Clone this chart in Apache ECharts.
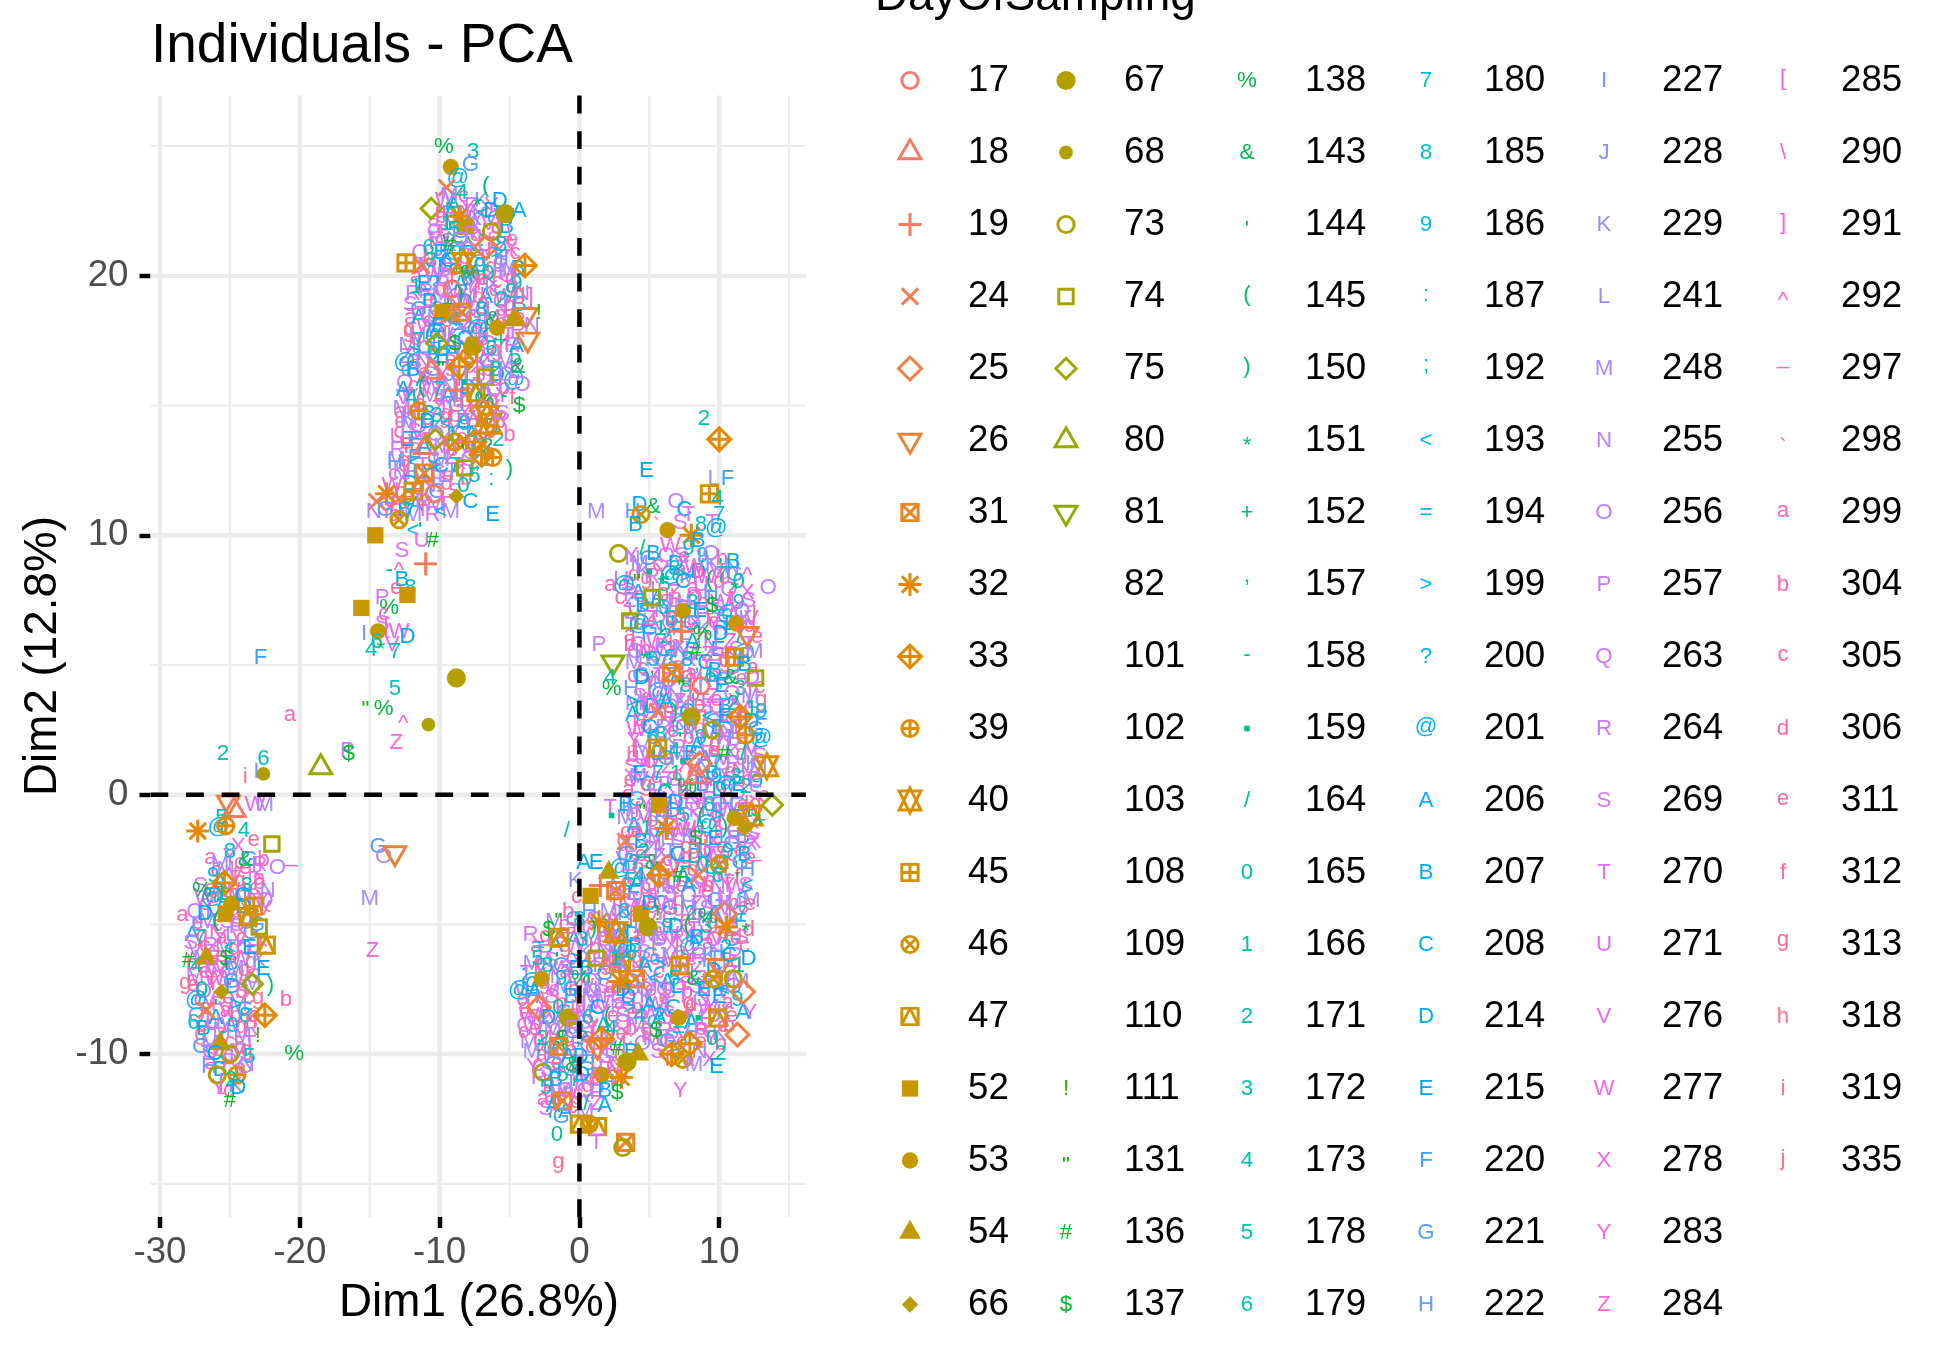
<!DOCTYPE html>
<html>
<head>
<meta charset="utf-8">
<title>Individuals - PCA</title>
<script src="https://cdn.jsdelivr.net/npm/echarts@6/dist/echarts.min.js"></script>
<style>
  html, body { margin: 0; padding: 0; background: #fff; }
  #pca { width: 1950px; height: 1349px; }
</style>
</head>
<body>
<div id="pca"></div>
<script>
// DayOfSampling levels in legend order; level k is drawn with R pch k+1
var days = [17, 18, 19, 24, 25, 26, 31, 32, 33, 39, 40, 45, 46, 47, 52, 53, 54, 66,
  67, 68, 73, 74, 75, 80, 81, 82, 101, 102, 103, 108, 109, 110, 111, 131, 136, 137,
  138, 143, 144, 145, 150, 151, 152, 157, 158, 159, 164, 165, 166, 171, 172, 173, 178, 179,
  180, 185, 186, 187, 192, 193, 194, 199, 200, 201, 206, 207, 208, 214, 215, 220, 221, 222,
  227, 228, 229, 241, 248, 255, 256, 257, 263, 264, 269, 270, 271, 276, 277, 278, 283, 284,
  285, 290, 291, 292, 297, 298, 299, 304, 305, 306, 311, 312, 313, 318, 319, 335];

var xTicks = [-30, -20, -10, 0, 10];
var yTicks = [-10, 0, 10, 20];
var xMinor = [-25, -15, -5, 5, 15];
var yMinor = [-15, -5, 5, 15, 25];
var zeroLine = [0];

// individuals: [Dim1, Dim2, DayOfSampling]
var upperGroup = [
  [-9.7,25.0,138],[-7.6,24.8,172],[-9.2,24.2,53],[-7.8,24.3,221],[-8.7,23.7,201],[-9.5,23.4,24],[-9.3,23.1,248],[-8.4,23.2,173],[-6.7,23.4,145],[-7.3,22.9,151],
  [-10.6,22.6,75],[-9.9,22.4,299],[-9.2,22.5,178],[-8.6,22.3,32],[-8.0,22.6,283],[-7.5,22.2,229],[-6.9,22.4,193],[-6.3,22.5,214],[-5.3,22.4,67],[-4.3,22.5,206],[-9.5,22.0,166],[-8.2,21.9,52],
  [-10.3,21.7,263],[-9.7,21.5,144],[-9.0,21.8,178],[-8.5,21.4,256],[-7.7,21.6,264],[-7.0,21.3,187],[-6.3,21.7,73],[-5.6,21.2,185],[-5.0,21.6,290],[-10.8,21.1,179],[-9.9,20.9,207],[-9.3,21.2,136],[-8.1,21.0,269],[-7.4,20.8,193],[-6.7,21.1,25],[-5.9,20.9,199],
  [-12.4,20.5,45],[-11.3,20.4,24],[-10.6,20.6,172],[-10.0,20.3,271],[-9.4,20.6,208],[-8.8,20.2,157],[-8.3,20.5,40],[-7.8,20.1,138],[-7.1,20.4,186],[-6.5,20.1,165],[-5.8,20.5,228],[-5.2,20.2,248],[-4.6,20.8,305],[-3.9,20.4,33],[-9.7,20.0,257],[-8.0,19.9,185],[-6.9,19.8,311],[-4.9,19.9,306],
  [-11.7,19.6,166],[-11.0,19.4,257],[-10.4,19.7,200],[-9.9,19.3,248],[-9.1,19.5,17],[-8.5,19.2,150],[-7.8,19.6,283],[-7.2,19.2,306],[-6.3,19.5,229],[-5.6,19.1,171],[-4.9,19.4,186],[-4.3,19.2,313],[-10.7,19.0,214],[-9.4,18.9,152],[-8.1,19.0,277],[-6.8,18.9,192],[-5.3,18.8,227],[-3.5,19.1,291],
  [-11.9,18.7,297],[-11.2,18.5,270],[-10.5,18.4,241],[-9.8,18.6,52],[-9.0,18.3,173],[-8.4,18.6,31],[-7.6,18.4,263],[-7.0,18.7,185],[-6.2,18.3,143],[-5.5,18.6,299],[-4.7,18.3,54],[-3.8,18.5,26],[-2.9,18.6,111],[-3.4,18.1,255],[-10.1,18.1,215],[-8.7,18.0,194],[-7.3,17.9,201],[-5.9,18.0,53],
  [-12.2,17.7,313],[-11.5,17.5,180],[-10.8,17.8,164],[-10.2,17.4,75],[-9.5,17.7,276],[-8.9,17.4,137],[-8.2,17.6,208],[-7.6,17.3,67],[-6.9,17.6,304],[-6.3,17.2,179],[-5.6,17.5,152],[-4.8,17.3,264],[-3.7,17.55,26],[-11.8,17.1,199],[-10.5,17.0,186],[-9.2,17.0,220],[-7.9,16.9,46],[-6.6,16.8,278],
  [-12.5,16.6,201],[-11.9,16.4,207],[-11.2,16.7,255],[-10.6,16.3,18],[-9.9,16.6,131],[-9.3,16.2,228],[-8.6,16.5,33],[-7.9,16.2,241],[-7.3,16.5,312],[-6.7,16.1,74],[-6.0,16.4,171],[-5.3,16.2,256],[-4.4,16.5,143],[-11.0,16.0,283],[-8.2,15.9,159],[-4.1,15.8,256],
  [-12.6,15.6,206],[-12.0,15.3,173],[-11.3,15.7,145],[-10.7,15.4,298],[-10.1,15.6,180],[-9.4,15.3,248],[-8.8,15.6,19],[-8.1,15.2,306],[-7.4,15.5,47],[-6.8,15.2,138],[-6.1,15.6,263],[-5.4,15.3,158],[-4.3,15.0,137],[-9.7,14.9,270],[-7.0,14.8,25],
  [-12.8,14.7,299],[-12.2,14.5,229],[-11.5,14.8,39],[-10.9,14.4,214],[-10.2,14.6,172],[-9.5,14.3,193],[-8.9,14.6,304],[-8.2,14.3,186],[-7.6,14.5,277],[-6.6,14.6,40],[-6.4,14.3,40],[-5.7,14.5,264],[-5.0,13.9,304],[-11.8,14.0,269],[-9.1,13.9,166],
  [-13.0,13.8,271],[-12.4,13.5,311],[-11.7,13.7,220],[-11.0,13.4,18],[-10.3,13.7,75],[-9.6,13.3,285],[-8.9,13.6,46],[-8.2,13.4,131],[-7.5,13.6,33],[-6.6,13.4,171],[-6.2,13.0,39],[-7.0,13.1,33],[-9.9,12.9,248],
  [-13.2,12.8,222],[-12.5,12.5,285],[-11.8,12.8,193],[-11.1,12.4,31],[-10.4,12.7,199],[-9.7,12.3,241],[-8.9,12.7,180],[-8.2,12.6,74],[-7.5,12.3,178],[-6.3,12.1,187],[-5.0,12.5,150],
  [-13.8,11.6,32],[-12.9,11.4,24],[-11.9,11.7,45],[-11.2,11.3,264],[-10.4,11.6,17],[-9.7,11.2,270],[-8.8,11.5,66],[-7.8,11.3,208],
  [-14.5,11.3,24],[-14.7,10.9,255],[-13.9,11.0,221],[-12.9,10.6,46],[-12.2,10.9,180],[-11.4,10.4,144],[-11.9,10.2,193],[-9.2,10.9,248],[-6.2,10.8,215],[-14.6,10.0,52],
  [-11.3,9.8,271],[-10.5,9.8,136],[-12.7,9.4,269],[-12.9,8.8,292],[-11.0,8.9,19],[-12.7,8.3,207],[-12.1,8.0,185],[-13.6,8.6,158],
  [-13.1,7.9,311],[-12.3,7.6,299],[-12.3,7.7,52],[-14.1,7.6,257],[-13.6,7.2,138],[-15.6,7.2,52],[-14.0,6.9,305],[-14.1,6.6,269],[-13.8,6.4,285],[-12.9,6.3,277],[-15.4,6.2,227],[-14.4,6.3,53],[-14.5,5.9,179],[-13.4,5.8,276],[-12.3,6.1,214],[-14.9,5.6,173],[-14.2,5.8,151],[-13.2,5.5,180]
];

var upperCore = [
  [-9.6,22.9,277],[-9.0,22.7,206],[-8.3,23.0,305],[-7.7,22.7,264],[-7.0,22.9,229],[-6.3,22.7,283],[-5.7,22.9,214],
  [-10.4,21.9,269],[-9.8,21.7,311],[-9.1,22.0,248],[-8.5,21.7,221],[-7.8,21.9,299],[-7.2,21.7,255],[-6.5,22.0,276],[-5.9,21.7,313],[-5.2,21.9,207],
  [-11.4,20.9,263],[-10.8,20.7,304],[-10.1,21.0,228],[-9.5,20.7,284],[-8.8,20.9,201],[-8.2,20.7,306],[-7.5,21.0,241],[-6.9,20.7,270],[-6.2,20.9,318],[-5.6,20.7,222],[-4.9,21.0,278],
  [-11.7,19.9,299],[-11.1,19.7,215],[-10.4,20.0,277],[-9.8,19.7,264],[-9.1,19.9,312],[-8.5,19.7,206],[-7.8,20.0,248],[-7.2,19.7,283],[-6.5,19.9,229],[-5.9,19.7,305],[-5.2,20.0,271],[-4.5,19.7,186],
  [-12.1,18.9,269],[-11.5,18.7,221],[-10.8,19.0,311],[-10.2,18.7,256],[-9.5,18.9,284],[-8.9,18.7,304],[-8.2,19.0,214],[-7.6,18.7,276],[-6.9,18.9,299],[-6.3,18.7,241],[-5.6,19.0,263],[-5.0,18.7,313],[-4.3,18.9,207],
  [-12.2,17.9,305],[-11.6,17.7,248],[-10.9,18.0,277],[-10.3,17.7,201],[-9.6,17.9,319],[-9.0,17.7,229],[-8.3,18.0,283],[-7.7,17.7,312],[-7.0,17.9,255],[-6.4,17.7,208],[-5.7,18.0,306],[-5.1,17.7,270],[-4.4,17.9,264],
  [-12.4,16.9,284],[-11.8,16.7,299],[-11.1,17.0,222],[-10.5,16.7,269],[-9.8,16.9,215],[-9.2,16.7,311],[-8.5,17.0,241],[-7.9,16.7,304],[-7.2,16.9,276],[-6.6,16.7,221],[-5.9,17.0,313],[-5.3,16.7,248],[-4.6,16.9,178],
  [-12.5,15.9,263],[-11.9,15.7,305],[-11.2,16.0,206],[-10.6,15.7,277],[-9.9,15.9,299],[-9.3,15.7,255],[-8.6,16.0,283],[-8.0,15.7,214],[-7.3,15.9,312],[-6.7,15.7,229],[-6.0,16.0,271],[-5.4,15.7,304],[-4.7,15.9,201],
  [-12.7,14.9,248],[-12.1,14.7,264],[-11.4,15.0,311],[-10.8,14.7,207],[-10.1,14.9,284],[-9.5,14.7,306],[-8.8,15.0,221],[-8.2,14.7,278],[-7.5,14.9,299],[-6.9,14.7,241],[-6.2,15.0,313],[-5.5,14.7,269],
  [-12.9,13.9,305],[-12.3,13.7,215],[-11.6,14.0,276],[-11.0,13.7,299],[-10.3,13.9,256],[-9.7,13.7,283],[-9.0,14.0,229],[-8.4,13.7,311],[-7.7,13.9,206],[-7.1,13.7,264],[-6.4,14.0,304],[-5.8,13.7,171],
  [-13.1,12.9,248],[-12.5,12.7,313],[-11.8,13.0,220],[-11.2,12.7,270],[-10.5,12.9,305],[-9.9,12.7,208],[-9.2,13.0,284],[-8.6,12.7,299],[-7.9,12.9,263],[-7.3,12.7,192],[-6.7,12.9,241],
  [-13.4,11.9,277],[-12.8,11.7,304],[-12.1,12.0,214],[-11.5,11.7,311],[-10.8,11.9,255],[-10.2,11.7,221],[-9.5,12.0,306],[-8.9,11.7,269],[-8.3,11.9,165],
  [-13.8,10.9,283],[-13.2,10.7,299],[-12.5,11.0,207],[-11.9,10.8,248],[-11.2,11.0,312],[-10.5,10.8,264],[-9.9,10.9,193]
];

var upperFill = [
  [-9.9,22.3,304],[-9.3,22.4,264],[-8.6,22.2,311],[-8.0,22.4,248],[-7.3,22.2,283],[-6.7,22.4,305],[-6.0,22.2,221],[-5.4,22.3,277],
  [-10.6,21.3,312],[-10.0,21.4,277],[-9.3,21.2,229],[-8.7,21.4,305],[-8.0,21.2,206],[-7.4,21.4,313],[-6.7,21.2,263],[-6.1,21.4,269],[-5.4,21.2,284],[-4.8,21.3,311],
  [-11.5,20.3,305],[-10.9,20.4,248],[-10.2,20.2,276],[-9.6,20.4,214],[-8.9,20.2,311],[-8.3,20.4,276],[-7.6,20.2,304],[-7.0,20.4,221],[-6.3,20.2,313],[-5.7,20.4,269],[-5.0,20.2,255],[-4.4,20.3,207],
  [-11.9,19.3,264],[-11.3,19.4,311],[-10.6,19.2,283],[-10.0,19.4,305],[-9.3,19.2,229],[-8.7,19.4,277],[-8.0,19.2,248],[-7.4,19.4,312],[-6.7,19.2,206],[-6.1,19.4,305],[-5.4,19.2,277],[-4.8,19.4,313],[-4.1,19.3,255],
  [-12.1,18.3,299],[-11.5,18.4,206],[-10.8,18.2,305],[-10.2,18.4,269],[-9.5,18.2,311],[-8.9,18.4,284],[-8.2,18.2,263],[-7.6,18.4,221],[-6.9,18.2,313],[-6.3,18.4,248],[-5.6,18.2,304],[-5.0,18.4,264],[-4.3,18.3,311],
  [-12.3,17.3,248],[-11.7,17.4,313],[-11.0,17.2,263],[-10.4,17.4,270],[-9.7,17.2,207],[-9.1,17.4,305],[-8.4,17.2,277],[-7.8,17.4,311],[-7.1,17.2,229],[-6.5,17.4,256],[-5.8,17.2,283],[-5.2,17.4,312],[-4.5,17.3,206],
  [-12.4,16.3,305],[-11.8,16.4,264],[-11.1,16.2,311],[-10.5,16.4,221],[-9.8,16.2,278],[-9.2,16.4,313],[-8.5,16.2,248],[-7.9,16.4,305],[-7.2,16.2,269],[-6.6,16.4,304],[-5.9,16.2,214],[-5.3,16.4,229],[-4.6,16.3,284],
  [-12.6,15.3,276],[-12.0,15.4,277],[-11.3,15.2,305],[-10.7,15.4,248],[-10.0,15.2,311],[-9.4,15.4,206],[-8.7,15.2,313],[-8.1,15.4,264],[-7.4,15.2,271],[-6.8,15.4,221],[-6.1,15.2,305],[-5.5,15.4,283],[-4.8,15.3,312],
  [-12.8,14.3,311],[-12.2,14.4,248],[-11.5,14.2,263],[-10.9,14.4,305],[-10.2,14.2,229],[-9.6,14.4,313],[-8.9,14.2,276],[-8.3,14.4,215],[-7.6,14.2,264],[-7.0,14.4,311],[-6.3,14.2,207],[-5.7,14.4,304],
  [-13.0,13.3,264],[-12.4,13.4,283],[-11.7,13.2,313],[-11.1,13.4,206],[-10.4,13.2,305],[-9.8,13.4,248],[-9.1,13.2,311],[-8.5,13.4,277],[-7.8,13.2,269],[-7.2,13.4,221],[-6.5,13.2,312],
  [-13.3,12.3,305],[-12.7,12.4,248],[-12.0,12.2,256],[-11.4,12.4,214],[-10.7,12.2,313],[-10.1,12.4,269],[-9.4,12.2,311],[-8.8,12.4,229],[-8.1,12.2,304],
  [-13.6,11.3,276],[-13.0,11.2,264],[-12.3,11.4,311],[-11.7,11.2,206],[-11.0,11.3,305],[-10.3,11.2,248]
];

var rightGroup = [
  [4.8,12.5,215],[8.9,14.5,171],[10.0,13.7,33],[9.6,12.2,241],[10.6,12.2,220],[9.3,11.6,45],[4.3,11.2,214],[3.8,10.9,222],[6.9,11.3,256],[7.5,11.0,208],[5.3,11.1,143],[9.9,11.4,173],
  [4.4,10.8,46],[4.0,10.4,207],[5.5,10.6,298],[6.3,10.2,53],[7.2,10.5,269],[7.8,10.8,270],[8.0,10.0,32],[8.7,10.4,185],[9.5,10.5,270],[9.8,10.2,201],[10.0,10.8,180],[8.5,9.8,207],
  [2.8,9.3,73],[3.8,9.1,255],[4.5,9.5,164],[5.3,9.3,207],[6.5,9.6,277],[7.3,9.2,269],[7.8,9.5,186],[8.6,9.1,227],[9.4,9.3,256],[10.1,9.0,144],[11.0,9.0,207],[12.0,8.6,292],[13.5,8.0,256],
  [3.0,8.3,271],[2.2,8.0,299],[3.2,8.0,201],[4.1,8.4,131],[5.0,8.6,159],[6.0,8.3,152],[6.8,8.7,172],[7.6,8.4,199],[8.5,8.6,304],[9.3,8.2,145],[10.2,8.5,180],[11.1,8.1,151],[6.0,7.8,318],
  [2.9,7.5,305],[3.7,7.7,264],[4.5,7.3,207],[5.2,7.6,74],[6.0,7.2,178],[6.7,7.5,241],[7.4,7.1,53],[8.1,7.4,172],[8.8,7.0,257],[9.5,7.3,137],[10.2,7.0,194],[10.9,7.4,291],[11.6,7.1,263],[12.3,6.8,276],
  [3.6,6.7,74],[4.3,6.5,201],[5.1,6.8,284],[5.8,6.4,166],[6.6,6.7,313],[7.3,6.3,19],[8.0,6.6,221],[8.8,6.2,138],[9.6,6.6,283],[10.4,6.3,187],[11.2,6.6,53],[12.0,6.2,26],
  [1.4,5.8,257],[2.4,5.1,81],[2.2,4.5,173],[2.3,4.1,138],[3.6,5.8,304],[4.1,5.5,227],[4.7,5.4,151],[5.3,5.2,178],[5.9,5.7,264],[6.5,5.3,200],[7.1,5.6,229],[7.7,5.2,185],[8.3,5.5,136],[9.0,5.1,208],[9.7,5.4,269],[10.4,5.0,313],[11.1,5.3,45],[11.8,5.0,207],
  [4.5,4.5,214],[5.2,4.6,157],[5.9,4.3,248],[6.6,4.7,31],[7.3,4.3,131],[8.0,4.6,299],[8.7,4.2,17],[9.4,4.6,179],[10.1,4.3,192],[10.8,4.5,143],[12.6,4.5,74],[12.2,4.0,270],
  [3.8,3.6,199],[4.4,3.3,165],[5.0,3.7,277],[5.6,3.2,24],[6.2,3.6,206],[6.8,3.1,150],[7.4,3.5,255],[8.0,3.0,67],[8.6,3.4,311],[9.2,3.0,193],[9.8,3.4,263],[10.4,3.0,215],[11.0,3.5,171],[11.5,3.0,33],[13.0,2.9,220],[12.3,3.3,166],
  [4.0,2.7,285],[5.0,2.6,208],[5.8,2.3,185],[6.5,2.7,270],[7.2,2.3,144],[7.9,2.6,228],[8.7,2.2,186],[9.5,2.5,73],[10.3,2.2,278],[11.1,2.6,241],[11.9,2.3,39],[12.7,2.1,200],
  [3.9,1.7,312],[4.5,1.4,271],[5.0,1.3,312],[5.6,1.8,47],[6.2,1.4,221],[6.8,1.7,173],[7.4,1.3,159],[8.0,1.6,207],[8.6,1.2,25],[9.2,1.6,276],[9.8,1.2,180],[10.4,1.6,136],[11.0,1.2,264],[11.7,1.6,164],[12.4,1.2,229],[13.4,1.1,40],
  [4.2,0.7,248],[4.9,0.4,192],[5.6,0.8,180],[6.3,0.4,151],[7.0,0.7,305],[7.7,0.3,138],[8.4,0.7,18],[9.1,0.3,283],[9.8,0.7,186],[10.5,0.3,201],[11.2,0.7,172],[11.9,0.3,171],[12.6,0.6,257],
  [2.2,-0.5,270],[2.3,-0.8,159],[3.3,-0.4,207],[3.9,-0.8,256],[4.5,-0.5,131],[5.1,-0.9,227],[5.7,-0.4,52],[6.3,-0.8,299],[6.9,-0.3,214],[7.5,-0.8,178],[8.1,-0.4,263],[8.7,-0.9,145],[9.3,-0.4,185],[9.9,-0.8,199],[10.5,-0.4,222],[11.1,-0.9,53],[11.7,-0.4,306],[12.3,-0.8,40],[13.8,-0.4,75],[12.9,-1.0,152],
  [4.1,-1.5,311],[4.8,-1.3,166],[5.5,-1.7,248],[6.2,-1.3,32],[6.9,-1.7,241],[7.6,-1.3,277],[8.3,-1.7,137],[9.0,-1.3,187],[9.7,-1.7,215],[10.4,-1.3,150],[11.1,-1.7,264],[11.8,-1.3,66],[12.5,-1.8,278],[9.0,-2.0,335],
  [3.3,-2.3,221],[3.9,-2.6,200],[4.6,-2.2,171],[5.2,-2.6,143],[5.8,-2.2,229],[6.4,-2.7,17],[7.0,-2.3,208],[7.6,-2.7,194],[8.2,-2.2,313],[8.8,-2.7,165],[9.4,-2.3,270],[10.0,-2.7,46],[10.6,-2.2,186],[11.2,-2.7,157],[11.8,-2.3,207],[12.6,-2.6,297],
  [3.6,-3.3,178],[4.3,-3.1,173],[5.0,-3.5,263],[5.7,-3.1,33],[6.4,-3.5,255],[7.1,-3.1,136],[7.8,-3.5,206],[8.5,-3.1,24],[9.2,-3.5,304],[9.9,-3.1,179],[10.6,-3.5,283],[11.3,-3.1,144],[12.0,-3.5,193],
  [2.5,-4.2,312],[3.2,-4.5,185],[3.8,-4.1,269],[4.4,-4.6,52],[5.0,-4.2,214],[5.6,-4.6,111],[6.2,-4.2,277],[6.8,-4.7,192],[7.4,-4.2,227],[8.0,-4.6,171],[8.6,-4.2,256],[9.2,-4.7,138],[9.8,-4.2,271],[10.4,-4.6,25],[11.0,-4.2,248],[11.6,-4.6,180],[12.2,-4.3,311],
  [2.8,-5.3,222],[3.5,-5.1,158],[4.2,-5.5,299],[4.9,-5.1,67],[5.6,-5.5,241],[6.3,-5.1,186],[7.0,-5.5,264],[7.7,-5.1,145],[8.4,-5.5,207],[9.1,-5.1,172],[9.8,-5.5,276],[10.5,-5.1,32],[11.2,-5.5,306],[11.9,-5.1,151],
  [2.3,-6.2,277],[3.0,-6.5,47],[3.7,-6.1,185],[4.4,-6.6,164],[5.1,-6.2,221],[5.8,-6.6,199],[6.5,-6.2,248],[7.2,-6.6,45],[7.9,-6.2,283],[8.6,-6.7,187],[9.3,-6.2,229],[10.0,-6.6,26],[10.7,-6.2,208],[11.4,-6.6,166],[12.1,-6.3,214],
  [3.3,-7.3,304],[4.0,-7.1,31],[4.7,-7.5,256],[5.4,-7.1,193],[6.1,-7.5,263],[6.8,-7.1,178],[7.5,-7.5,270],[8.2,-7.1,143],[8.9,-7.5,215],[9.6,-7.1,46],[10.3,-7.5,193],[11.0,-7.1,73],[11.7,-7.6,25],
  [3.6,-8.2,199],[4.3,-8.5,173],[5.0,-8.1,206],[5.7,-8.5,200],[6.4,-8.1,241],[7.1,-8.6,53],[7.8,-8.2,313],[8.5,-8.6,159],[9.2,-8.2,277],[9.9,-8.6,47],[10.6,-8.2,298],[11.7,-8.4,206],[12.2,-8.4,283],[11.3,-9.25,25],
  [4.6,-9.3,270],[5.5,-9.1,137],[6.3,-9.5,221],[7.1,-9.1,194],[7.9,-9.6,33],[8.7,-9.1,264],[9.5,-9.4,165],[10.3,-9.0,311],
  [6.6,-10.0,33],[7.4,-10.2,46],[8.2,-10.4,248],[9.8,-10.5,215],[7.2,-11.4,283],[10.1,-10.0,171]
];

var rightCore = [
  [3.7,9.2,283],[4.3,8.9,248],[4.9,9.1,221],[5.6,8.8,305],[6.2,9.2,263],[6.9,8.9,214],[7.5,9.1,311],[8.2,8.8,277],[8.8,9.2,186],[9.5,8.9,229],[10.2,9.1,304],[10.9,8.8,255],
  [3.5,8.1,269],[4.2,7.8,206],[4.8,8.2,313],[5.5,7.9,241],[6.1,8.1,178],[6.8,7.8,284],[7.4,8.2,208],[8.1,7.9,299],[8.7,8.1,271],[9.4,7.8,222],[10.0,8.2,306],[10.7,7.9,256],[11.4,8.2,165],[12.0,7.8,278],
  [3.4,7.1,228],[4.0,6.9,276],[4.7,7.2,193],[5.3,6.9,319],[6.0,7.1,248],[6.6,6.8,207],[7.3,7.2,264],[7.9,6.9,285],[8.6,7.1,215],[9.2,6.8,312],[9.9,7.2,269],[10.6,6.9,201],[11.2,7.1,283],[11.9,6.8,229],[12.5,7.0,335],
  [3.6,6.1,299],[4.2,5.8,263],[4.9,6.2,220],[5.5,5.9,277],[6.2,6.1,171],[6.8,5.8,304],[7.5,6.2,241],[8.1,5.9,206],[8.8,6.1,318],[9.4,5.8,255],[10.1,6.2,214],[10.8,5.9,284],[11.4,6.1,180],[12.1,5.8,270],[12.7,6.0,311],
  [3.9,5.1,248],[4.5,4.8,305],[5.2,5.2,229],[5.8,4.9,278],[6.5,5.1,221],[7.1,4.8,313],[7.8,5.2,264],[8.4,4.9,192],[9.1,5.1,283],[9.7,4.8,207],[10.4,5.2,306],[11.0,4.9,271],[11.7,5.1,257],[12.4,4.8,299],
  [3.7,4.1,222],[4.3,3.8,269],[5.0,4.2,312],[5.6,3.9,201],[6.3,4.1,276],[6.9,3.8,255],[7.6,4.2,185],[8.2,3.9,304],[8.9,4.1,241],[9.5,3.8,284],[10.2,4.2,215],[10.9,3.9,263],[11.5,4.1,172],[12.2,3.8,248],[12.9,4.1,305],
  [3.8,3.1,206],[4.4,2.8,299],[5.1,3.2,277],[5.7,2.9,228],[6.4,3.1,311],[7.0,2.8,264],[7.7,3.2,208],[8.3,2.9,270],[9.0,3.1,319],[9.6,2.8,221],[10.3,3.2,285],[11.0,2.9,256],[11.6,3.1,306],[12.3,2.8,214],[13.0,3.2,186],
  [3.9,2.1,283],[4.5,1.8,248],[5.2,2.2,179],[5.8,1.9,312],[6.5,2.1,229],[7.1,1.8,257],[7.8,2.2,304],[8.4,1.9,206],[9.1,2.1,271],[9.7,1.8,313],[10.4,2.2,222],[11.0,1.9,264],[11.7,2.1,299],[12.3,1.8,276],[13.0,2.1,201],
  [3.7,1.1,269],[4.3,0.8,215],[5.0,1.2,305],[5.6,0.9,241],[6.3,1.1,284],[6.9,0.8,166],[7.6,1.2,278],[8.2,0.9,311],[8.9,1.1,255],[9.5,0.8,207],[10.2,1.2,263],[10.8,0.9,306],[11.5,1.1,228],[12.1,0.8,283],[12.8,1.1,248],
  [3.5,0.1,299],[4.1,-0.2,221],[4.8,0.2,313],[5.4,-0.1,270],[6.1,0.1,208],[6.7,-0.2,277],[7.4,0.2,304],[8.0,-0.1,229],[8.7,0.1,285],[9.3,-0.2,264],[10.0,0.2,214],[10.6,-0.1,318],[11.3,0.1,256],[11.9,-0.2,192],[12.6,0.1,269],[13.2,-0.1,305],
  [3.3,-0.9,248],[3.9,-1.2,206],[4.6,-0.8,276],[5.2,-1.1,311],[5.9,-0.9,222],[6.5,-1.2,263],[7.2,-0.8,299],[7.8,-1.1,241],[8.5,-0.9,283],[9.1,-1.2,201],[9.8,-0.8,306],[10.4,-1.1,271],[11.1,-0.9,215],[11.7,-1.2,304],[12.4,-0.9,178],
  [3.1,-1.9,313],[3.7,-2.2,257],[4.4,-1.8,207],[5.0,-2.1,284],[5.7,-1.9,319],[6.3,-2.2,228],[7.0,-1.8,269],[7.6,-2.1,305],[8.3,-1.9,255],[8.9,-2.2,214],[9.6,-1.8,278],[10.2,-2.1,311],[10.9,-1.9,221],[11.5,-2.2,299],[12.2,-1.9,264],
  [2.9,-2.9,201],[3.5,-3.2,270],[4.2,-2.8,304],[4.8,-3.1,248],[5.5,-2.9,229],[6.1,-3.2,313],[6.8,-2.8,276],[7.4,-3.1,206],[8.1,-2.9,306],[8.7,-3.2,263],[9.4,-2.8,185],[10.0,-3.1,283],[10.7,-2.9,241],[11.3,-3.2,312],[12.0,-2.9,222],
  [2.6,-3.9,264],[3.2,-4.2,305],[3.9,-3.8,215],[4.5,-4.1,277],[5.2,-3.9,299],[5.8,-4.2,208],[6.5,-3.8,269],[7.1,-4.1,318],[7.8,-3.9,256],[8.4,-4.2,284],[9.1,-3.8,311],[9.7,-4.1,221],[10.4,-3.9,271],[11.0,-4.2,304],[11.7,-3.9,193],[12.3,-4.1,248],
  [2.4,-4.9,283],[3.0,-5.2,206],[3.7,-4.8,312],[4.3,-5.1,241],[5.0,-4.9,276],[5.6,-5.2,263],[6.3,-4.8,305],[6.9,-5.1,214],[7.6,-4.9,299],[8.2,-5.2,270],[8.9,-4.8,229],[9.5,-5.1,313],[10.2,-4.9,255],[10.8,-5.2,284],[11.5,-4.9,220],[12.1,-5.2,306],
  [2.7,-5.9,248],[3.3,-6.2,304],[4.0,-5.8,207],[4.6,-6.1,269],[5.3,-5.9,319],[5.9,-6.2,228],[6.6,-5.8,278],[7.2,-6.1,311],[7.9,-5.9,201],[8.5,-6.2,264],[9.2,-5.8,299],[9.8,-6.1,222],[10.5,-5.9,171],[11.1,-6.2,257],[11.8,-5.9,305],
  [3.1,-6.9,313],[3.7,-7.2,221],[4.4,-6.8,283],[5.0,-7.1,255],[5.7,-6.9,305],[6.3,-7.2,206],[7.0,-6.8,276],[7.6,-7.1,299],[8.3,-6.9,241],[8.9,-7.2,312],[9.6,-6.8,214],[10.2,-7.1,263],[10.9,-6.9,284],[11.5,-7.2,248],
  [3.5,-7.9,269],[4.1,-8.2,304],[4.8,-7.8,229],[5.4,-8.1,277],[6.1,-7.9,311],[6.7,-8.2,208],[7.4,-7.8,270],[8.0,-8.1,306],[8.7,-7.9,256],[9.3,-8.2,283],[10.0,-7.8,215],[10.6,-8.1,299],[11.3,-7.9,186],
  [4.1,-8.9,248],[4.8,-9.2,313],[5.4,-8.8,221],[6.1,-9.1,264],[6.7,-8.9,305],[7.4,-9.2,276],[8.0,-8.8,206],[8.7,-9.1,311],[9.3,-8.9,284],[10.0,-9.2,229],[10.7,-8.9,304],
  [5.6,-9.9,269],[6.3,-10.2,312],[7.0,-9.9,207],[7.8,-10.3,299],[8.6,-9.9,255],[9.3,-10.2,278]
];

var rightFill = [
  [3.9,8.5,306],[4.6,8.6,229],[5.2,8.4,264],[5.9,8.6,283],[6.5,8.4,201],[7.2,8.6,311],[7.8,8.4,248],[8.5,8.6,214],[9.1,8.4,277],[9.8,8.6,276],[10.4,8.4,313],[11.1,8.5,221],
  [3.6,7.5,284],[4.3,7.6,305],[4.9,7.4,255],[5.6,7.6,206],[6.2,7.4,269],[6.9,7.6,318],[7.5,7.4,222],[8.2,7.6,263],[8.8,7.4,304],[9.5,7.6,241],[10.1,7.4,277],[10.8,7.6,312],[11.4,7.4,186],[12.1,7.5,269],
  [3.7,6.5,270],[4.4,6.6,313],[5.0,6.4,221],[5.7,6.6,276],[6.3,6.4,248],[7.0,6.6,207],[7.6,6.4,311],[8.3,6.6,278],[8.9,6.4,229],[9.6,6.6,305],[10.2,6.4,264],[10.9,6.6,214],[11.5,6.4,283],[12.2,6.5,306],
  [4.0,5.5,263],[4.7,5.6,304],[5.3,5.4,277],[6.0,5.6,208],[6.6,5.4,312],[7.3,5.6,255],[7.9,5.4,269],[8.6,5.6,241],[9.2,5.4,284],[9.9,5.6,215],[10.5,5.4,311],[11.2,5.6,269],[11.8,5.4,201],[12.5,5.5,248],
  [3.8,4.5,305],[4.4,4.6,221],[5.1,4.4,283],[5.7,4.6,270],[6.4,4.4,256],[7.0,4.6,206],[7.7,4.4,313],[8.3,4.6,276],[9.0,4.4,229],[9.6,4.6,304],[10.3,4.4,264],[10.9,4.6,193],[11.6,4.4,311],[12.3,4.5,256],
  [3.9,3.5,248],[4.6,3.6,312],[5.2,3.4,214],[5.9,3.6,277],[6.5,3.4,263],[7.2,3.6,284],[7.8,3.4,305],[8.5,3.6,222],[9.1,3.4,269],[9.8,3.6,311],[10.4,3.4,207],[11.1,3.6,278],[11.7,3.4,276],[12.4,3.6,241],[13.0,3.5,313],
  [4.1,2.5,277],[4.7,2.6,305],[5.4,2.4,229],[6.0,2.6,264],[6.7,2.4,311],[7.3,2.6,201],[8.0,2.4,283],[8.6,2.6,306],[9.3,2.4,248],[9.9,2.6,215],[10.6,2.4,255],[11.2,2.6,270],[11.9,2.4,312],[12.6,2.5,221],
  [3.8,1.5,304],[4.4,1.6,263],[5.1,1.4,277],[5.7,1.6,214],[6.4,1.4,318],[7.0,1.6,248],[7.7,1.4,284],[8.3,1.6,305],[9.0,1.4,206],[9.6,1.6,311],[10.3,1.4,276],[10.9,1.6,229],[11.6,1.4,313],[12.2,1.6,255],[12.9,1.5,269],
  [3.6,0.5,311],[4.2,0.6,277],[4.9,0.4,221],[5.5,0.6,305],[6.2,0.4,264],[6.8,0.6,256],[7.5,0.4,241],[8.1,0.6,313],[8.8,0.4,207],[9.4,0.6,283],[10.1,0.4,306],[10.7,0.6,269],[11.4,0.4,215],[12.0,0.6,304],[12.7,0.5,186],
  [3.5,-0.5,229],[4.1,-0.6,312],[4.8,-0.4,283],[5.4,-0.6,255],[6.1,-0.4,276],[6.7,-0.6,214],[7.4,-0.4,305],[8.0,-0.6,270],[8.7,-0.4,311],[9.3,-0.6,248],[10.0,-0.4,263],[10.6,-0.6,277],[11.3,-0.4,221],[11.9,-0.6,284],[12.6,-0.5,313],
  [3.3,-1.5,305],[3.9,-1.6,264],[4.6,-1.4,248],[5.2,-1.6,269],[5.9,-1.4,206],[6.5,-1.6,311],[7.2,-1.4,277],[7.8,-1.6,229],[8.5,-1.4,304],[9.1,-1.6,283],[9.8,-1.4,312],[10.4,-1.6,241],[11.1,-1.4,256],[11.7,-1.6,207],[12.4,-1.5,269],
  [3.1,-2.5,276],[3.7,-2.6,222],[4.4,-2.4,311],[5.0,-2.6,269],[5.7,-2.4,284],[6.3,-2.6,305],[7.0,-2.4,248],[7.6,-2.6,313],[8.3,-2.4,214],[8.9,-2.6,276],[9.6,-2.4,277],[10.2,-2.6,264],[10.9,-2.4,305],[11.5,-2.6,221],[12.2,-2.5,311],
  [2.8,-3.5,248],[3.4,-3.6,313],[4.1,-3.4,206],[4.7,-3.6,304],[5.4,-3.4,270],[6.0,-3.6,255],[6.7,-3.4,263],[7.3,-3.6,311],[8.0,-3.4,229],[8.6,-3.6,283],[9.3,-3.4,305],[9.9,-3.6,255],[10.6,-3.4,312],[11.2,-3.6,277],[11.9,-3.5,269],
  [2.6,-4.5,305],[3.2,-4.6,229],[3.9,-4.4,277],[4.5,-4.6,264],[5.2,-4.4,311],[5.8,-4.6,283],[6.5,-4.4,221],[7.1,-4.6,313],[7.8,-4.4,248],[8.4,-4.6,304],[9.1,-4.4,269],[9.7,-4.6,206],[10.4,-4.4,276],[11.0,-4.6,241],[11.7,-4.4,305],
  [2.5,-5.5,264],[3.1,-5.6,311],[3.8,-5.4,214],[4.4,-5.6,305],[5.1,-5.4,248],[5.7,-5.6,256],[6.4,-5.4,277],[7.0,-5.6,312],[7.7,-5.4,283],[8.3,-5.6,229],[9.0,-5.4,304],[9.6,-5.6,263],[10.3,-5.4,311],[10.9,-5.6,221],[11.6,-5.5,269],
  [2.8,-6.5,276],[3.4,-6.6,248],[4.1,-6.4,313],[4.7,-6.6,206],[5.4,-6.4,305],[6.0,-6.6,270],[6.7,-6.4,277],[7.3,-6.6,264],[8.0,-6.4,311],[8.6,-6.6,284],[9.3,-6.4,222],[9.9,-6.6,305],[10.6,-6.4,241],[11.2,-6.6,313],
  [3.2,-7.5,283],[3.8,-7.6,305],[4.5,-7.4,229],[5.1,-7.6,311],[5.8,-7.4,255],[6.4,-7.6,269],[7.1,-7.4,214],[7.7,-7.6,304],[8.4,-7.4,269],[9.0,-7.6,313],[9.7,-7.4,248],[10.3,-7.6,276],[11.0,-7.4,221],
  [3.8,-8.5,311],[4.4,-8.6,264],[5.1,-8.4,277],[5.7,-8.6,206],[6.4,-8.4,305],[7.0,-8.6,277],[7.7,-8.4,312],[8.3,-8.6,248],[9.0,-8.4,284],[9.6,-8.6,305],[10.3,-8.4,229],[10.9,-8.6,311],
  [4.5,-9.6,256],[5.2,-9.4,248],[5.9,-9.6,313],[6.6,-9.4,264],[7.3,-9.6,305],[8.0,-9.4,221],[8.7,-9.6,311],[9.4,-9.4,283],[10.1,-9.6,304]
];

var lowerGroup = [
  [-0.9,-1.4,164],[0.3,-2.6,206],[-0.3,-3.3,229],[3.3,-1.8,24],[1.2,-2.6,215],[2.1,-3.0,54],[1.5,-3.5,19],[0.8,-3.9,52],[-0.2,-4.0,305],[2.6,-3.7,31],
  [-1.5,-4.7,131],[-0.8,-4.5,304],[0.0,-4.8,185],[0.7,-4.5,222],[1.4,-4.9,32],[2.1,-4.5,248],[-2.2,-5.2,137],[-1.4,-5.5,47],[-0.6,-5.2,299],[0.2,-5.6,172],[1.0,-5.2,150],[1.8,-5.6,263],[2.6,-5.3,40],[-2.9,-5.8,194],[-3.5,-5.4,264],
  [-3.0,-6.3,178],[-2.3,-6.6,185],[-1.6,-6.2,144],[-0.9,-6.7,269],[-0.2,-6.3,199],[0.5,-6.7,207],[1.2,-6.3,74],[1.9,-6.7,313],[2.6,-6.3,166],
  [-4.0,-7.0,187],[-3.4,-7.3,201],[-2.7,-7.1,53],[-2.0,-7.5,276],[-1.3,-7.1,186],[-0.6,-7.5,221],[0.1,-7.1,138],[0.8,-7.5,255],[1.5,-7.1,192],[2.2,-7.5,299],[2.9,-7.2,32],[-4.3,-7.6,201],[-3.9,-8.1,299],[-2.5,-8.0,290],
  [-3.6,-8.5,277],[-2.9,-8.2,25],[-2.2,-8.6,214],[-1.5,-8.2,165],[-0.8,-8.6,67],[-0.1,-8.2,271],[0.6,-8.6,179],[1.3,-8.2,208],[2.0,-8.6,145],[2.7,-8.2,257],
  [-4.0,-9.2,305],[-3.3,-9.0,277],[-2.6,-9.4,171],[-1.9,-9.0,248],[-1.2,-9.4,137],[-0.5,-9.0,264],[0.2,-9.4,200],[0.9,-9.0,283],[1.6,-9.4,33],[2.3,-9.0,173],[3.0,-9.3,311],
  [-2.9,-9.8,192],[-2.2,-10.0,227],[-1.5,-9.7,31],[-0.8,-10.1,206],[-0.1,-9.7,157],[0.6,-10.1,222],[1.3,-9.7,26],[2.0,-10.1,269],[2.7,-9.8,136],[3.4,-10.3,67],[4.2,-10.0,54],
  [-3.3,-10.5,283],[-2.6,-10.7,73],[-1.9,-10.4,221],[-1.2,-10.8,178],[-0.5,-10.4,143],[0.2,-10.8,214],[0.9,-10.4,187],[1.6,-10.8,53],[2.3,-10.5,305],[3.0,-10.9,32],
  [-2.4,-11.3,178],[-1.7,-11.0,207],[-1.0,-11.4,256],[-0.3,-11.0,180],[0.4,-11.4,263],[1.1,-11.0,311],[1.8,-11.4,207],[2.7,-11.5,137],
  [-2.6,-11.8,299],[-1.9,-12.0,206],[-1.2,-11.8,31],[-0.5,-12.1,305],[0.5,-11.9,164],
  [-1.5,-14.3,313],[-1.6,-13.1,165],[0.0,-12.7,47],[1.3,-12.8,47],[0.7,-12.7,46],[1.2,-13.4,270],[3.3,-13.4,31],[3.1,-13.6,73],[-2.1,-12.4,144],[1.8,-12.0,206],[-1.3,-12.4,221]
];

var lowerCore = [
  [-1.8,-4.9,248],[-1.1,-5.1,305],[-0.4,-4.8,221],[0.3,-5.0,283],[1.0,-4.8,269],[1.7,-5.1,214],[2.4,-4.9,311],
  [-3.1,-5.9,299],[-2.4,-6.1,264],[-1.7,-5.8,206],[-1.0,-6.0,313],[-0.3,-5.8,277],[0.4,-6.1,229],[1.1,-5.9,304],[1.8,-6.1,255],[2.5,-5.8,284],[3.1,-6.0,201],
  [-3.8,-6.9,270],[-3.1,-6.7,312],[-2.4,-7.0,248],[-1.7,-6.7,276],[-1.0,-6.9,299],[-0.3,-6.7,215],[0.4,-7.0,306],[1.1,-6.7,263],[1.8,-6.9,221],[2.5,-6.7,311],[3.2,-6.9,241],
  [-4.1,-8.0,305],[-3.4,-7.8,222],[-2.7,-8.1,283],[-2.0,-7.8,269],[-1.3,-8.0,304],[-0.6,-7.8,207],[0.1,-8.1,313],[0.8,-7.8,248],[1.5,-8.0,277],[2.2,-7.8,264],[2.9,-8.1,299],[3.5,-7.8,214],
  [-3.9,-8.9,256],[-3.2,-9.1,311],[-2.5,-8.8,229],[-1.8,-9.1,305],[-1.1,-8.9,284],[-0.4,-9.1,201],[0.3,-8.8,269],[1.0,-9.1,312],[1.7,-8.9,206],[2.4,-9.1,283],[3.1,-8.8,263],[3.7,-9.0,304],
  [-3.4,-9.9,248],[-2.7,-10.1,299],[-2.0,-9.8,221],[-1.3,-10.1,276],[-0.6,-9.9,311],[0.1,-10.1,214],[0.8,-9.8,305],[1.5,-10.1,270],[2.2,-9.9,241],[2.9,-10.2,313],[3.7,-9.9,207],
  [-2.9,-10.9,264],[-2.2,-11.1,304],[-1.5,-10.8,283],[-0.8,-11.1,228],[-0.1,-10.9,299],[0.6,-11.1,255],[1.3,-10.8,311],[2.0,-11.1,222],[2.8,-10.9,277],
  [-2.4,-12.1,269],[-1.7,-11.9,313],[-1.0,-12.2,206],[-0.3,-11.9,305],[0.4,-12.2,248],[1.2,-11.9,284]
];

var lowerFill = [
  [-2.5,-5.5,305],[-1.8,-5.6,264],[-1.1,-5.4,311],[-0.4,-5.6,206],[0.3,-5.4,276],[1.0,-5.6,248],[1.7,-5.4,313],[2.4,-5.5,277],
  [-3.4,-6.5,248],[-2.7,-6.6,311],[-2.0,-6.4,269],[-1.3,-6.6,221],[-0.6,-6.4,305],[0.1,-6.6,283],[0.8,-6.4,313],[1.5,-6.6,264],[2.2,-6.4,304],[2.9,-6.5,229],
  [-3.9,-7.5,277],[-3.2,-7.6,206],[-2.5,-7.4,313],[-1.8,-7.6,305],[-1.1,-7.4,248],[-0.4,-7.6,311],[0.3,-7.4,277],[1.0,-7.6,256],[1.7,-7.4,269],[2.4,-7.6,312],[3.1,-7.5,214],
  [-3.9,-8.5,311],[-3.2,-8.6,264],[-2.5,-8.4,305],[-1.8,-8.6,276],[-1.1,-8.4,221],[-0.4,-8.6,313],[0.3,-8.4,248],[1.0,-8.6,305],[1.7,-8.4,283],[2.4,-8.6,311],[3.1,-8.5,269],
  [-3.6,-9.5,248],[-2.9,-9.6,313],[-2.2,-9.4,277],[-1.5,-9.6,206],[-0.8,-9.4,305],[-0.1,-9.6,264],[0.6,-9.4,311],[1.3,-9.6,277],[2.0,-9.4,255],[2.7,-9.6,248],[3.4,-9.5,305],
  [-3.0,-10.5,305],[-2.3,-10.6,269],[-1.6,-10.4,311],[-0.9,-10.6,248],[-0.2,-10.4,313],[0.5,-10.6,221],[1.2,-10.4,305],[1.9,-10.6,264],[2.6,-10.5,276],
  [-2.2,-11.5,311],[-1.5,-11.6,248],[-0.8,-11.4,277],[-0.1,-11.6,305],[0.6,-11.4,313],[1.3,-11.5,264]
];

var leftGroup = [
  [-27.3,-1.4,32],[-25.1,-0.3,26],[-24.7,-0.6,18],[-23.2,-0.4,277],[-22.5,-0.4,248],[-25.6,-0.9,178],[-25.8,-1.3,201],[-25.3,-1.2,39],[-24.0,-1.4,173],[-22.0,-1.9,74],[-23.3,-1.8,311],[-24.4,-2.0,278],[-23.9,-2.5,143],[-22.6,-2.5,304],[-21.6,-2.8,256],[-20.6,-2.8,297],[-25.0,-2.2,185],
  [-26.2,-3.1,186],[-25.4,-3.4,33],[-24.6,-3.1,312],[-23.8,-3.5,172],[-22.9,-3.3,299],[-27.0,-3.7,138],[-26.3,-4.0,201],[-25.6,-3.8,166],[-24.9,-4.2,53],[-24.1,-3.9,208],[-23.3,-4.3,45],[-22.5,-4.1,263],
  [-26.8,-4.6,214],[-26.0,-4.9,145],[-25.3,-4.6,52],[-24.5,-5.0,269],[-23.7,-4.7,47],[-22.9,-5.1,74],[-28.4,-4.7,299],[-27.6,-5.0,227],
  [-27.8,-5.7,269],[-27.1,-5.5,180],[-26.4,-5.8,264],[-25.7,-5.5,283],[-25.0,-5.9,193],[-24.3,-5.6,276],[-23.6,-5.9,215],[-22.4,-5.8,47],
  [-28.0,-6.4,136],[-27.4,-6.6,173],[-26.7,-6.3,54],[-26.0,-6.7,277],[-25.3,-6.3,137],[-24.6,-6.7,248],[-23.8,-6.4,187],[-22.6,-6.7,215],
  [-27.7,-7.2,305],[-27.0,-7.5,165],[-26.3,-7.2,312],[-25.6,-7.6,66],[-24.9,-7.2,221],[-24.2,-7.6,304],[-23.4,-7.3,75],[-21.0,-7.9,304],[-28.2,-7.4,313],[-22.1,-7.4,150],
  [-27.4,-8.0,201],[-26.7,-8.3,24],[-26.0,-8.0,144],[-25.3,-8.4,299],[-24.6,-8.1,199],[-23.9,-8.5,185],[-22.5,-8.5,33],[-23.5,-8.7,318],
  [-27.6,-8.8,179],[-26.9,-9.0,207],[-26.2,-8.8,271],[-25.5,-9.2,158],[-24.8,-8.9,186],[-24.1,-9.3,248],[-23.0,-9.3,111],
  [-27.1,-9.7,221],[-26.4,-9.9,256],[-25.7,-9.6,54],[-25.0,-10.0,73],[-24.3,-9.8,305],[-23.6,-10.1,178],
  [-26.5,-10.5,222],[-25.9,-10.8,73],[-25.2,-10.4,297],[-24.5,-10.8,39],[-23.9,-10.5,256],[-25.6,-11.2,285],[-24.9,-11.0,171],[-24.4,-11.3,214],[-25.0,-11.8,136],[-26.1,-10.0,208],[-20.4,-10.0,138]
];

var leftCore = [
  [-26.4,-2.5,299],[-25.7,-2.7,248],[-25.0,-2.4,283],[-24.3,-2.7,305],[-23.6,-2.5,221],[-22.9,-2.7,264],
  [-27.1,-3.5,269],[-26.4,-3.7,311],[-25.7,-3.4,206],[-25.0,-3.7,277],[-24.3,-3.5,313],[-23.6,-3.7,229],[-22.9,-3.4,304],[-22.3,-3.7,255],
  [-27.5,-4.5,263],[-26.8,-4.3,305],[-26.1,-4.6,248],[-25.4,-4.3,284],[-24.7,-4.5,299],[-24.0,-4.3,214],[-23.3,-4.6,311],[-22.6,-4.4,276],
  [-27.7,-5.4,206],[-27.0,-5.6,313],[-26.3,-5.3,270],[-25.6,-5.6,299],[-24.9,-5.4,241],[-24.2,-5.6,305],[-23.5,-5.3,221],[-22.8,-5.6,283],
  [-27.7,-6.5,304],[-27.0,-6.3,248],[-26.3,-6.6,264],[-25.6,-6.3,311],[-24.9,-6.5,207],[-24.2,-6.3,277],[-23.5,-6.6,313],[-22.9,-6.4,229],
  [-27.6,-7.4,299],[-26.9,-7.6,256],[-26.2,-7.3,283],[-25.5,-7.6,305],[-24.8,-7.4,214],[-24.1,-7.6,269],[-23.4,-7.3,248],
  [-27.4,-8.5,263],[-26.7,-8.3,311],[-26.0,-8.6,206],[-25.3,-8.3,276],[-24.6,-8.5,304],[-23.9,-8.3,221],[-23.2,-8.6,299],
  [-27.1,-9.4,313],[-26.4,-9.6,248],[-25.7,-9.3,284],[-25.0,-9.6,305],[-24.3,-9.4,241],[-23.6,-9.6,270],
  [-26.4,-10.4,299],[-25.7,-10.6,207],[-25.0,-10.3,264],[-24.3,-10.6,311],[-23.8,-10.4,255],
  [-25.8,-11.3,283],[-25.1,-11.5,305],[-24.6,-11.2,229]
];

var leftFill = [
  [-26.0,-3.0,305],[-25.3,-2.9,248],[-24.6,-3.1,276],[-23.9,-2.9,311],[-23.2,-3.0,264],
  [-26.8,-4.0,277],[-26.1,-3.9,313],[-25.4,-4.1,206],[-24.7,-3.9,305],[-24.0,-4.1,248],[-23.3,-3.9,311],[-22.6,-4.0,283],
  [-27.3,-5.0,311],[-26.6,-4.9,248],[-25.9,-5.1,305],[-25.2,-4.9,269],[-24.5,-5.1,264],[-23.8,-4.9,313],[-23.1,-5.0,221],
  [-27.5,-6.0,276],[-26.8,-5.9,305],[-26.1,-6.1,311],[-25.4,-5.9,248],[-24.7,-6.1,313],[-24.0,-5.9,256],[-23.3,-6.1,264],[-22.7,-6.0,305],
  [-27.5,-7.0,248],[-26.8,-6.9,311],[-26.1,-7.1,277],[-25.4,-6.9,305],[-24.7,-7.1,277],[-24.0,-6.9,313],[-23.3,-7.0,269],
  [-27.2,-8.0,305],[-26.5,-7.9,276],[-25.8,-8.1,264],[-25.1,-7.9,311],[-24.4,-8.1,248],[-23.7,-7.9,305],[-23.0,-8.0,313],
  [-27.0,-9.0,311],[-26.3,-8.9,305],[-25.6,-9.1,248],[-24.9,-8.9,277],[-24.2,-9.1,313],[-23.5,-9.0,264],
  [-26.5,-10.0,269],[-25.8,-9.9,311],[-25.1,-10.1,305],[-24.4,-9.9,248],[-23.8,-10.0,313]
];

var strayPoints = [
  [-22.8,5.3,220],[-20.7,3.0,299],[-25.5,1.6,171],[-22.6,1.4,179],[-23.9,0.7,319],[-23.1,0.9,227],[-22.6,0.8,68],[-18.5,1.05,80],
  [-16.6,1.7,257],[-16.5,1.6,137],[-15.3,3.5,131],[-14.0,3.3,138],[-13.2,4.1,178],[-12.6,2.9,292],[-13.1,2.0,284],[-10.8,2.7,68],[-8.8,4.5,67],
  [-14.4,-2.0,221],[-14.0,-2.4,256],[-13.2,-2.25,26],[-15.0,-4.0,248],[-14.8,-6.0,284],[1.2,10.9,248]
];

// ---- layout and style ----
var FONT = '"Liberation Sans", Arial, Helvetica, sans-serif';
var X_MIN = -30.68, X_MAX = 16.2, Y_MIN = -16.28, Y_MAX = 26.95;
var PT_R = 8.14, PT_LW = 2.95, PT_FONT = 22.3;
var LEG_SYM_X = [910, 1066, 1247, 1426, 1604, 1783];
var LEG_ROWS = 18, LEG_ROW0 = 80.5, LEG_ROW_H = 72, LEG_LAB_DX = 58;

// ggplot hue palette: hcl(h, 100, 65), h from 15 going round the circle
function hclHex(h, c, l) {
  var WX = 95.047, WY = 100, WZ = 108.883;
  var den = WX + 15 * WY + 3 * WZ, un = 4 * WX / den, vn = 9 * WY / den;
  var hr = h * Math.PI / 180;
  var up = c * Math.cos(hr) / (13 * l) + un, vp = c * Math.sin(hr) / (13 * l) + vn;
  var Y = WY * Math.pow((l + 16) / 116, 3);
  var X = 9 * Y * up / (4 * vp), Z = Y * (12 - 3 * up - 20 * vp) / (4 * vp);
  X /= 100; Y /= 100; Z /= 100;
  var rgb = [3.240479 * X - 1.537150 * Y - 0.498535 * Z,
    -0.969256 * X + 1.875992 * Y + 0.041556 * Z,
    0.055648 * X - 0.204043 * Y + 1.057311 * Z];
  return '#' + rgb.map(function (t) {
    t = t <= 0.0031308 ? 12.92 * t : 1.055 * Math.pow(t, 1 / 2.4) - 0.055;
    t = Math.round(Math.max(0, Math.min(1, t)) * 255);
    return (t < 16 ? '0' : '') + t.toString(16);
  }).join('');
}
var palette = days.map(function (d, k) { return hclHex(15 + 360 * k / days.length, 100, 65); });
var dayIndex = {};
days.forEach(function (d, k) { dayIndex[d] = k; });

// vertical centre of a character glyph above its baseline, in em (R centres pch chars on their box)
function charMid(ch) {
  if ('acemnorsuvwxz'.indexOf(ch) >= 0) return 0.26;
  if ('gpqy'.indexOf(ch) >= 0) return 0.155;
  var t = {'"': 0.6, "'": 0.6, '`': 0.66, '*': 0.58, '^': 0.53, ',': -0.02, '-': 0.27, '_': -0.15,
    ':': 0.26, ';': 0.18, '(': 0.26, ')': 0.26, '[': 0.26, ']': 0.26, '@': 0.26, 'j': 0.255};
  return t.hasOwnProperty(ch) ? t[ch] : 0.358;
}

// draw R plotting symbol pch = k + 1 centred at (cx, cy)
function glyph(k, cx, cy, col) {
  var r = PT_R, pch = k + 1, out = [], s2 = Math.SQRT2;
  function open() { return {stroke: col, lineWidth: PT_LW, fill: 'none'}; }
  function solid() { return {fill: col}; }
  function circle(rad, st) { out.push({type: 'circle', shape: {cx: cx, cy: cy, r: rad}, style: st}); }
  function poly(pts, st) {
    out.push({type: 'polygon', shape: {points: pts.map(function (p) { return [cx + p[0], cy + p[1]]; })}, style: st});
  }
  function seg(x1, y1, x2, y2) {
    out.push({type: 'line', shape: {x1: cx + x1, y1: cy + y1, x2: cx + x2, y2: cy + y2}, style: {stroke: col, lineWidth: PT_LW}});
  }
  function square(h, st) { poly([[-h, -h], [h, -h], [h, h], [-h, h]], st); }
  function diamond(h, st) { poly([[0, -h], [h, 0], [0, h], [-h, 0]], st); }
  function tri(up, st) {
    var a = 1.5551 * r, b = 1.3468 * r, c = 0.7776 * r, sg = up ? 1 : -1;
    poly([[0, -a * sg], [b, c * sg], [-b, c * sg]], st);
  }
  function plus(h) { seg(-h, 0, h, 0); seg(0, -h, 0, h); }
  function cross(h) { seg(-h, -h, h, h); seg(-h, h, h, -h); }
  switch (pch) {
    case 1: circle(r, open()); break;
    case 2: tri(true, open()); break;
    case 3: plus(r * s2); break;
    case 4: cross(r); break;
    case 5: diamond(r * s2, open()); break;
    case 6: tri(false, open()); break;
    case 7: square(r, open()); cross(r); break;
    case 8: cross(r); plus(r * s2); break;
    case 9: diamond(r * s2, open()); plus(r * s2); break;
    case 10: circle(r, open()); plus(r); break;
    case 11:
      var ra = 1.5551 * r, yc = 0.5 * (0.7776 * r + ra), xc = 1.3468 * r;
      poly([[0, -ra], [xc, yc], [-xc, yc]], open());
      poly([[0, ra], [xc, -yc], [-xc, -yc]], open());
      break;
    case 12: square(r, open()); plus(r); break;
    case 13: circle(r, open()); cross(r / s2); break;
    case 14: square(r, open()); seg(-r, r, 0, -r); seg(0, -r, r, r); break;
    case 15: square(r, solid()); break;
    case 16: circle(r, solid()); break;
    case 17: tri(true, solid()); break;
    case 18: diamond(r, solid()); break;
    case 19: circle(r, {fill: col, stroke: col, lineWidth: PT_LW}); break;
    case 20: circle(r * 2 / 3, {fill: col, stroke: col, lineWidth: PT_LW}); break;
    case 21: circle(r, open()); break;
    case 22: square(r * 0.8862, open()); break;
    case 23: diamond(r * 1.2533, open()); break;
    case 24: tri(true, open()); break;
    case 25: tri(false, open()); break;
    default:
      if (pch < 33) break;
      var ch = String.fromCharCode(pch);
      if (ch === '.') { square(2.8, solid()); break; }
      out.push({type: 'text', style: {
        text: ch, x: cx, y: cy + (charMid(ch) - 0.3465) * PT_FONT,
        fill: col, font: PT_FONT + 'px ' + FONT,
        align: 'center', verticalAlign: 'middle', textAlign: 'center', textVerticalAlign: 'middle'
      }});
  }
  return out;
}

function textEl(str, x, y, size, color, align, rotation) {
  return {type: 'text', x: x, y: y, rotation: rotation || 0, silent: true, style: {
    text: str, fill: color, font: size + 'px ' + FONT,
    align: align, verticalAlign: 'middle', textAlign: align, textVerticalAlign: 'middle'
  }};
}

// grid rules drawn through the axes' own scales
function ruleSeries(values, vertical, width, color, dash, z) {
  return {
    type: 'custom', silent: true, z: z, clip: false,
    data: values.map(function (v) { return vertical ? [v, 0] : [0, v]; }),
    renderItem: function (params, api) {
      var a, b;
      if (vertical) {
        a = api.coord([api.value(0), Y_MIN]); b = api.coord([api.value(0), Y_MAX]);
      } else {
        a = api.coord([X_MIN, api.value(1)]); b = api.coord([X_MAX, api.value(1)]);
      }
      return {type: 'line', shape: {x1: a[0], y1: a[1], x2: b[0], y2: b[1]},
        style: {stroke: color, lineWidth: width, lineDash: dash || null}};
    }
  };
}

// mix the lists of a cluster so none of them is always drawn on top
function interleave(a, b) {
  var out = [], n = Math.max(a.length, b.length);
  for (var i = 0; i < n; i++) {
    if (i < a.length) out.push(a[i]);
    if (i < b.length) out.push(b[i]);
  }
  return out;
}

var individuals = interleave(interleave(upperGroup, upperCore), upperFill)
  .concat(interleave(interleave(rightGroup, rightCore), rightFill),
    interleave(interleave(lowerGroup, lowerCore), lowerFill),
    interleave(interleave(leftGroup, leftCore), leftFill), strayPoints)
  .filter(function (p) { return dayIndex.hasOwnProperty(p[2]); });

var graphics = [
  textEl('Individuals - PCA', 151, 66 - 0.3465 * 55, 55, '#000', 'left'),
  textEl('Dim1 (26.8%)', 479, 1319 - 0.3465 * 45.8, 45.8, '#000', 'center'),
  textEl('Dim2 (12.8%)', 43, 656, 45.8, '#000', 'center', Math.PI / 2),
  textEl('DayOfSampling', 875, 13 - 0.3465 * 45.8, 45.8, '#000', 'left')
];
days.forEach(function (d, k) {
  var col = Math.floor(k / LEG_ROWS), row = k % LEG_ROWS;
  var cx = LEG_SYM_X[col], cy = LEG_ROW0 + row * LEG_ROW_H;
  graphics.push({type: 'group', silent: true, children: glyph(k, cx, cy, palette[k])});
  graphics.push(textEl(String(d), cx + LEG_LAB_DX, cy, 36.7, '#000', 'left'));
});

var chart = echarts.init(document.getElementById('pca'));
var option = {
  animation: false,
  backgroundColor: '#fff',
  grid: {left: 150.5, top: 95.6, width: 655.4, height: 1121.4},
  xAxis: {
    type: 'value', min: X_MIN, max: X_MAX,
    axisLine: {show: false, onZero: false},
    splitLine: {show: false},
    axisTick: {show: true, length: 11, lineStyle: {color: '#000', width: 4.45}, customValues: xTicks},
    axisLabel: {customValues: xTicks, margin: 17.5, fontSize: 36.7, color: '#4D4D4D', fontFamily: FONT}
  },
  yAxis: {
    type: 'value', min: Y_MIN, max: Y_MAX,
    axisLine: {show: false, onZero: false},
    splitLine: {show: false},
    axisTick: {show: true, length: 11, lineStyle: {color: '#000', width: 4.45}, customValues: yTicks},
    axisLabel: {customValues: yTicks, margin: 22, fontSize: 36.7, color: '#4D4D4D', fontFamily: FONT}
  },
  graphic: graphics,
  series: [
    ruleSeries(xMinor, true, 2.2, '#EBEBEB', null, 1),
    ruleSeries(yMinor, false, 2.2, '#EBEBEB', null, 1),
    ruleSeries(xTicks, true, 4.45, '#EBEBEB', null, 1),
    ruleSeries(yTicks, false, 4.45, '#EBEBEB', null, 1),
    {
      type: 'custom', silent: true, z: 5, clip: false,
      data: individuals,
      encode: {x: 0, y: 1},
      renderItem: function (params, api) {
        var p = api.coord([api.value(0), api.value(1)]);
        var k = dayIndex[api.value(2)];
        return {type: 'group', children: glyph(k, p[0], p[1], palette[k])};
      }
    },
    ruleSeries(zeroLine, true, 4.45, '#000', [17.8, 17.8], 8),
    ruleSeries(zeroLine, false, 4.45, '#000', [17.8, 17.8], 8)
  ]
};
chart.setOption(option);
</script>
</body>
</html>
